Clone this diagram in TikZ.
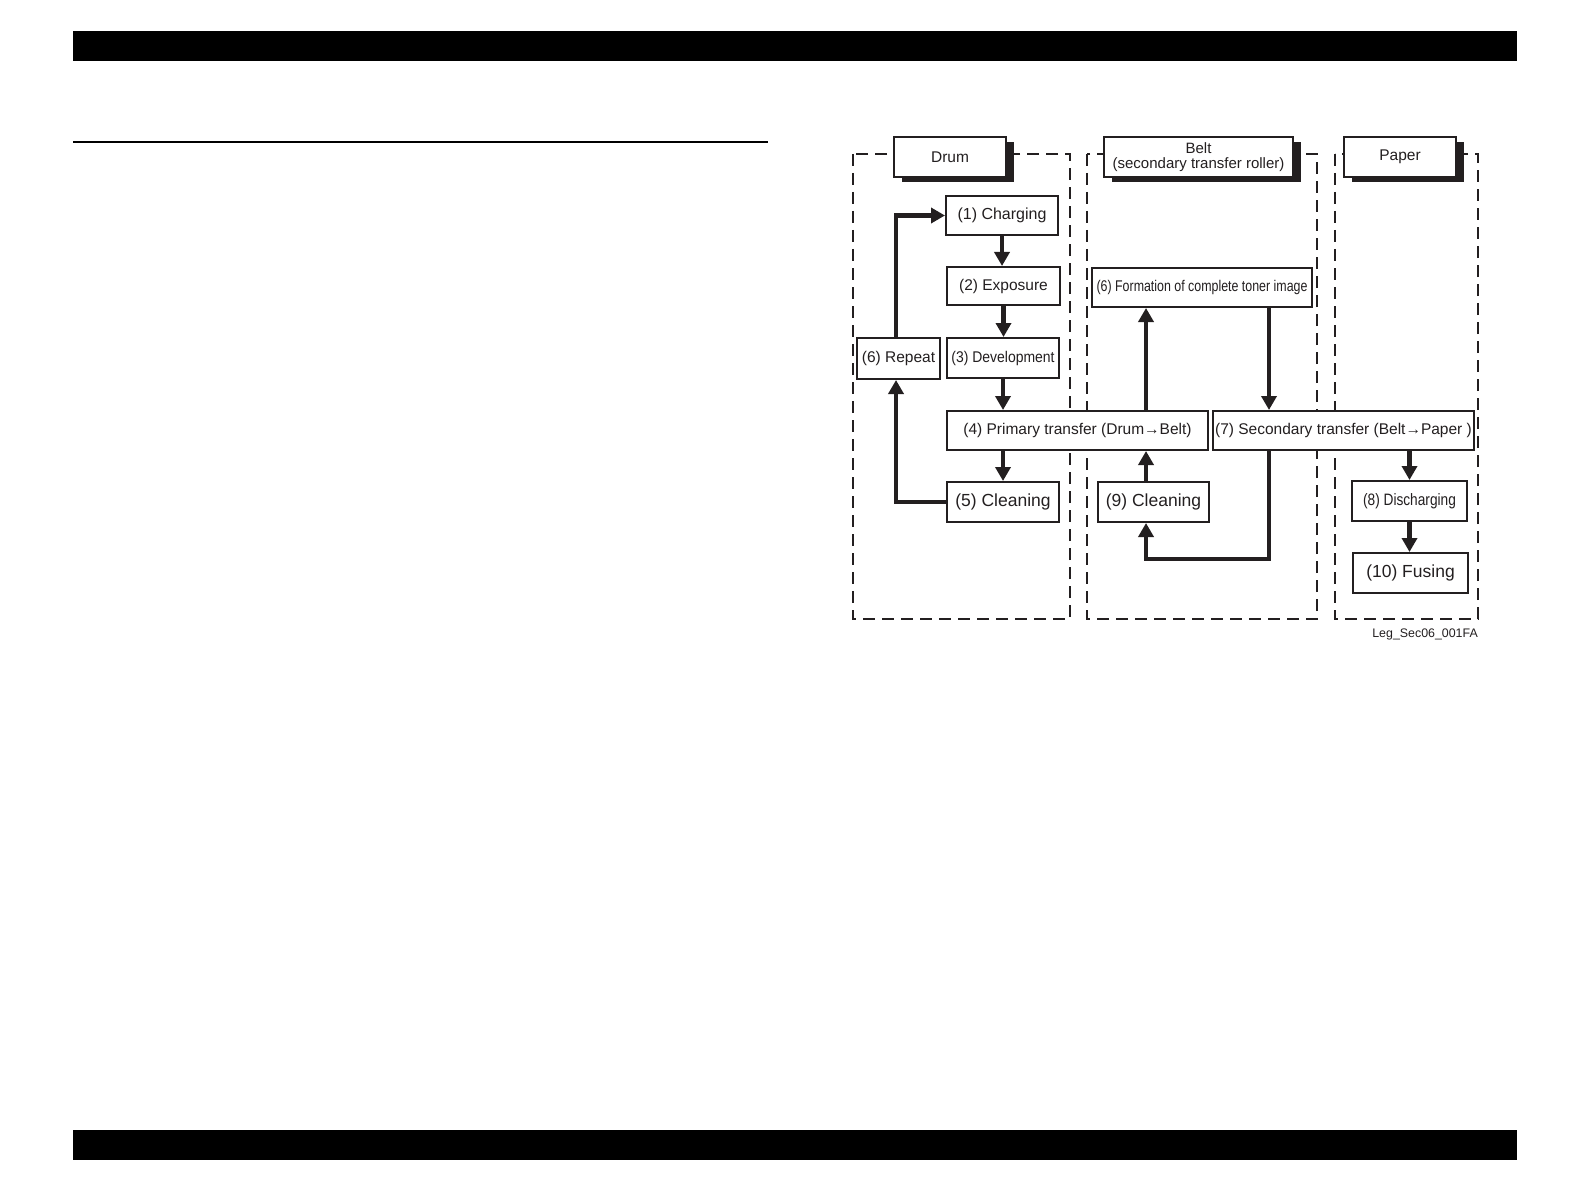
\documentclass[tikz,border=0pt]{standalone}
\usepackage{fontspec}
\setmainfont{Liberation Sans}
\newfontfamily\condA[FakeStretch=0.9]{Liberation Sans}
\newfontfamily\condB[FakeStretch=0.8]{Liberation Sans}
\newfontfamily\condC[FakeStretch=0.83]{Liberation Sans}
\newcommand\fsz[1]{\fontsize{#1}{#1}\selectfont}
\usetikzlibrary{arrows.meta,shadows}
\definecolor{ink}{RGB}{35,31,32}
\begin{document}
\begin{tikzpicture}[x=1pt,y=-1pt,
  box/.style={draw=ink,line width=2pt,fill=white,inner sep=0pt,text=ink,align=center},
  hdr/.style={box,minimum width=#1,minimum height=40pt,
    drop shadow={shadow xshift=8pt,shadow yshift=-5pt,fill=ink,opacity=1}},
  lane/.style={draw=ink,line width=2pt,dash pattern=on 12pt off 7pt},
  flow/.style={draw=ink,line width=4.5pt,-{Triangle[length=14pt,width=15pt]}},
  bar/.style={fill=black,draw=none}]
\useasboundingbox (0,0) rectangle (1586,1190);
% page bars
\fill[bar] (73,31) rectangle (1517,61);
\fill[bar] (73,1130) rectangle (1517,1160);
\draw[black,line width=1.3pt] (73,142) -- (768,142);
% lanes
\draw[lane] (853,154) rectangle (1070,619);
\draw[lane] (1087,154) rectangle (1317,619);
\draw[lane] (1335,154) rectangle (1478,619);
% headers
\node[hdr=112pt,font=\fsz{15.5}] (hdrum) at (950,157) {Drum};
\node[hdr=189pt,font=\fontsize{15}{15.5}\selectfont] (hbelt) at (1198.5,157) {Belt\\(secondary transfer roller)};
\node[hdr=112pt,font=\fsz{15.5}] (hpaper) at (1400,157) {Paper};
% stages
\node[box,minimum width=112pt,minimum height=39pt,font=\fsz{16}] (c1) at (1002,215.5) {(1) Charging};
\node[box,minimum width=113pt,minimum height=38pt,font=\fsz{15.5}] (c2) at (1003.5,286) {(2) Exposure};
\node[box,minimum width=112pt,minimum height=40pt,font=\condA\fsz{15.5}] (c3) at (1003,358) {(3) Development};
\node[box,minimum width=83pt,minimum height=41pt,font=\fsz{15.5}] (c6r) at (898.5,358.5) {(6) Repeat};
\node[box,minimum width=261pt,minimum height=39pt,font=\fsz{15.5}] (c4) at (1077.5,430.5) {(4) Primary transfer (Drum→Belt)};
\node[box,minimum width=112pt,minimum height=40pt,font=\fsz{17.5}] (c5) at (1003,502) {(5) Cleaning};
\node[box,minimum width=111pt,minimum height=40pt,font=\fsz{17.5}] (c9) at (1153.5,502) {(9) Cleaning};
\node[box,minimum width=220pt,minimum height=39pt,font=\condB\fsz{15.5}] (cf) at (1202,287.5) {(6) Formation of complete toner image};
\node[box,minimum width=261pt,minimum height=39pt,font=\fsz{15.5}] (c7) at (1343.5,430.5) {(7) Secondary transfer (Belt→Paper )};
\node[box,minimum width=115pt,minimum height=40pt,font=\condC\fsz{16.5}] (c8) at (1409.5,501) {(8) Discharging};
\node[box,minimum width=115pt,minimum height=40pt,font=\fsz{17.5}] (c10) at (1410.5,573) {(10) Fusing};
% label
\node[anchor=east,inner sep=0pt,text=ink,font=\fsz{12.4}] (lbl) at (1478,634) {Leg\_Sec06\_001FA};
% helper coordinates
\coordinate (xr) at (896,0);
\coordinate (xa) at (1146,0);
\coordinate (xb) at (1269,0);
\coordinate (loop) at (1146,559);
% connectors
\draw[flow] (c1.south) -- (c1.south |- c2.north);
\draw[flow] (c2.south) -- (c2.south |- c3.north);
\draw[flow] (c3.south) -- (c3.south |- c4.north);
\draw[flow] (c5.north |- c4.south) -- (c5.north);
\draw[flow] (c5.west) -| (xr |- c6r.south);
\draw[flow] (xr |- c6r.north) |- (c1.west);
\draw[flow] (xa |- c4.north) -- (xa |- cf.south);
\draw[flow] (xb |- cf.south) -- (xb |- c7.north);
\draw[flow] (xb |- c7.south) |- (loop) -- (loop |- c9.south);
\draw[flow] (xa |- c9.north) -- (xa |- c4.south);
\draw[flow] (c8.north |- c7.south) -- (c8.north);
\draw[flow] (c8.south) -- (c8.south |- c10.north);
\end{tikzpicture}
\end{document}
